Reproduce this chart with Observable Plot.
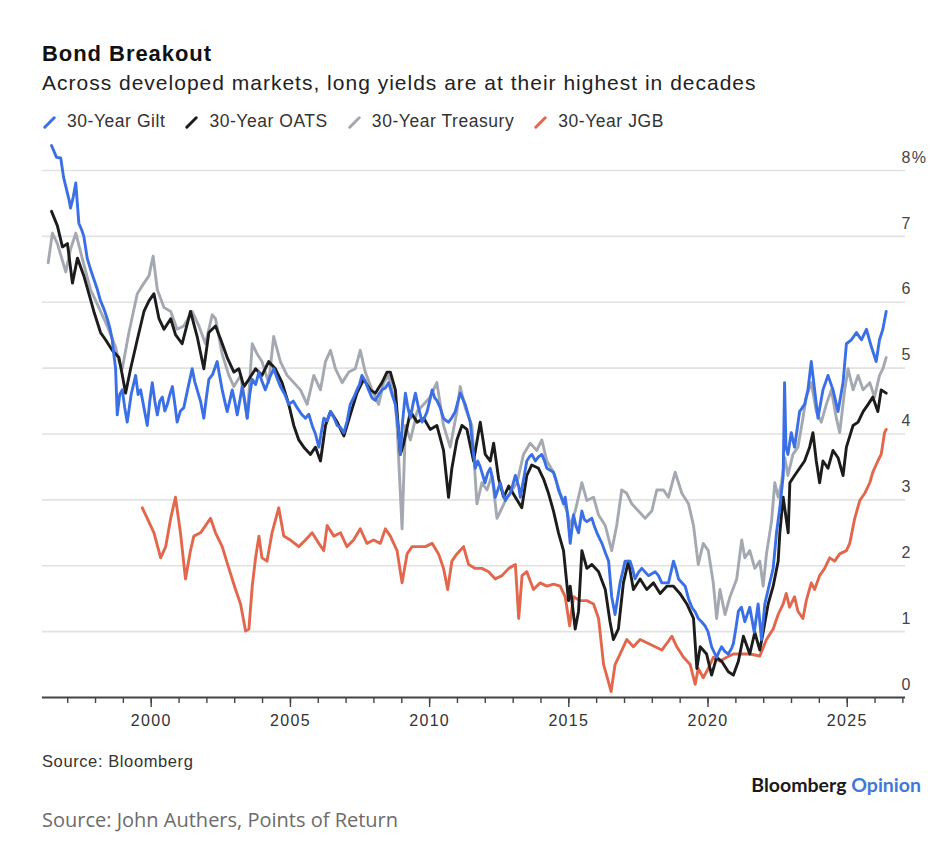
<!DOCTYPE html>
<html>
<head>
<meta charset="utf-8">
<script src="https://cdn.jsdelivr.net/npm/d3@7"></script>
<script src="https://cdn.jsdelivr.net/npm/@observablehq/plot@0.6"></script>
<style>
  html, body { margin: 0; padding: 0; background: #ffffff; }
  #root { position: relative; width: 948px; height: 866px; overflow: hidden; font-family: "Liberation Sans", Arial, Helvetica, sans-serif; }
  .abs { position: absolute; white-space: nowrap; }
  #title { left: 42px; top: 43.4px; font-size: 22px; line-height: 22px; font-weight: 700; letter-spacing: 0.95px; color: #111; }
  #subtitle { left: 42px; top: 72.2px; font-size: 21px; line-height: 21px; letter-spacing: 1px; color: #222; }
  #legend { left: 43px; top: 112.5px; display: flex; align-items: center; font-size: 17.5px; line-height: 17.5px; letter-spacing: 0.55px; color: #333; }
  #legend .item { display: flex; align-items: center; margin-right: 20px; }
  #legend svg { margin-right: 11px; margin-top: 2px; }
  #chart { left: 0; top: 140px; }
  #source { left: 42px; top: 753px; font-size: 16.5px; line-height: 16.5px; letter-spacing: 0.6px; color: #333; }
  #brand { right: 27px; top: 774.5px; font-family: Lato, "Liberation Sans", sans-serif; font-weight: 700; font-size: 19.5px; line-height: 19.5px; color: #1a1a1a; }
  #brand span { color: #3f78dc; }
  #caption { left: 42px; top: 810px; font-family: "Open Sans", "Noto Sans", sans-serif; font-size: 20px; line-height: 20px; color: #6b6b6b; }
</style>
</head>
<body>
<div id="root">
  <div id="title" class="abs">Bond Breakout</div>
  <div id="subtitle" class="abs">Across developed markets, long yields are at their highest in decades</div>
  <div id="legend" class="abs"></div>
  <div id="chart" class="abs"></div>
  <div id="source" class="abs">Source: Bloomberg</div>
  <div id="brand" class="abs">Bloomberg <span>Opinion</span></div>
  <div id="caption" class="abs">Source: John Authers, Points of Return</div>
</div>
<script>
// ---- Data (decimal year, yield %) ----
const seriesNames = ["30-Year Gilt", "30-Year OATS", "30-Year Treasury", "30-Year JGB"];
const seriesColors = ["#3b6fe6", "#1c1c1c", "#a4a9b1", "#e2674c"];
const yTicks = [0, 1, 2, 3, 4, 5, 6, 7, 8];

const gilt = [
[1996.42,8.38],[1996.6,8.2],[1996.75,8.19],[1996.85,7.9],[1996.93,7.76],[1997.05,7.55],[1997.1,7.43],[1997.2,7.6],[1997.29,7.81],[1997.4,7.2],[1997.5,7.1],[1997.58,7.0],[1997.7,6.67],[1997.82,6.5],[1997.94,6.35],[1998.06,6.2],[1998.18,6.02],[1998.3,5.9],[1998.42,5.75],[1998.52,5.6],[1998.6,5.43],[1998.66,5.2],[1998.72,5.0],[1998.78,4.29],[1998.87,4.6],[1998.96,4.67],[1999.05,4.4],[1999.14,4.18],[1999.28,4.6],[1999.44,4.89],[1999.53,4.6],[1999.62,4.67],[1999.74,4.4],[1999.86,4.13],[1999.95,4.5],[2000.04,4.78],[2000.13,4.5],[2000.22,4.29],[2000.31,4.5],[2000.4,4.56],[2000.49,4.35],[2000.58,4.45],[2000.67,4.6],[2000.76,4.72],[2000.85,4.45],[2000.93,4.18],[2001.05,4.35],[2001.17,4.4],[2001.32,4.7],[2001.47,4.99],[2001.56,4.8],[2001.65,4.67],[2001.77,4.5],[2001.89,4.24],[2001.98,4.55],[2002.07,4.83],[2002.2,4.9],[2002.37,5.1],[2002.45,4.9],[2002.55,4.67],[2002.64,4.5],[2002.73,4.34],[2002.82,4.5],[2002.91,4.67],[2003.0,4.5],[2003.09,4.29],[2003.18,4.5],[2003.27,4.72],[2003.36,4.5],[2003.45,4.24],[2003.54,4.6],[2003.63,4.83],[2003.75,4.75],[2003.87,4.94],[2003.98,4.8],[2004.1,4.67],[2004.25,4.85],[2004.4,4.99],[2004.52,4.85],[2004.64,4.72],[2004.8,4.6],[2004.94,4.45],[2005.1,4.5],[2005.24,4.4],[2005.4,4.3],[2005.54,4.24],[2005.66,4.3],[2005.78,4.13],[2005.9,4.0],[2006.02,3.8],[2006.1,4.0],[2006.2,4.24],[2006.32,4.2],[2006.44,4.34],[2006.56,4.25],[2006.68,4.13],[2006.8,4.1],[2006.92,4.02],[2007.04,4.2],[2007.15,4.45],[2007.27,4.55],[2007.39,4.67],[2007.48,4.75],[2007.57,4.89],[2007.69,4.8],[2007.81,4.67],[2007.93,4.55],[2008.05,4.51],[2008.17,4.6],[2008.29,4.67],[2008.41,4.7],[2008.53,4.78],[2008.65,4.6],[2008.77,4.45],[2008.83,4.24],[2008.9,4.0],[2008.95,3.69],[2009.03,4.2],[2009.13,4.62],[2009.22,4.4],[2009.31,4.24],[2009.4,4.45],[2009.49,4.62],[2009.6,4.4],[2009.73,4.18],[2009.82,4.25],[2009.91,4.34],[2010.0,4.5],[2010.09,4.67],[2010.18,4.55],[2010.26,4.51],[2010.38,4.4],[2010.5,4.24],[2010.6,4.2],[2010.68,4.18],[2010.8,4.25],[2010.92,4.34],[2011.02,4.5],[2011.1,4.62],[2011.28,4.45],[2011.46,4.18],[2011.55,3.8],[2011.64,3.48],[2011.73,3.59],[2011.82,3.5],[2011.99,3.26],[2012.08,3.4],[2012.18,3.48],[2012.27,3.3],[2012.36,3.04],[2012.45,3.15],[2012.54,3.26],[2012.63,3.1],[2012.72,2.99],[2012.81,3.05],[2012.9,3.1],[2013.0,3.25],[2013.08,3.37],[2013.2,3.2],[2013.26,3.04],[2013.37,3.3],[2013.49,3.59],[2013.58,3.65],[2013.67,3.69],[2013.8,3.59],[2013.9,3.65],[2014.03,3.69],[2014.12,3.6],[2014.21,3.48],[2014.33,3.45],[2014.45,3.42],[2014.54,3.3],[2014.63,3.15],[2014.72,3.05],[2014.81,2.94],[2014.87,3.04],[2014.95,2.8],[2015.05,2.34],[2015.17,2.77],[2015.26,2.6],[2015.35,2.5],[2015.47,2.83],[2015.56,2.7],[2015.65,2.67],[2015.83,2.72],[2015.92,2.6],[2016.01,2.5],[2016.19,2.34],[2016.31,2.2],[2016.43,2.07],[2016.54,1.53],[2016.66,1.26],[2016.75,1.5],[2016.84,1.74],[2016.93,1.9],[2017.02,2.07],[2017.2,2.07],[2017.29,1.95],[2017.38,1.8],[2017.5,1.9],[2017.62,1.96],[2017.86,1.85],[2018.1,1.91],[2018.22,1.85],[2018.34,1.74],[2018.58,1.74],[2018.76,2.07],[2018.85,1.95],[2018.94,1.8],[2019.18,1.69],[2019.3,1.5],[2019.42,1.37],[2019.54,1.3],[2019.65,1.2],[2019.77,1.15],[2019.89,1.09],[2020.0,1.0],[2020.13,0.77],[2020.31,0.61],[2020.4,0.7],[2020.49,0.77],[2020.6,0.7],[2020.73,0.66],[2020.85,0.75],[2020.91,0.82],[2021.0,1.05],[2021.09,1.31],[2021.2,1.37],[2021.32,1.15],[2021.5,1.37],[2021.66,0.99],[2021.8,1.42],[2021.92,0.88],[2022.04,1.42],[2022.16,1.64],[2022.34,1.96],[2022.46,2.5],[2022.58,2.88],[2022.7,3.37],[2022.75,4.78],[2022.8,3.8],[2022.87,3.69],[2022.99,4.02],[2023.11,3.8],[2023.29,4.34],[2023.47,4.45],[2023.59,4.67],[2023.71,5.1],[2023.83,4.67],[2023.95,4.24],[2024.13,4.67],[2024.31,4.89],[2024.49,4.67],[2024.67,4.34],[2024.85,4.78],[2024.97,5.37],[2025.15,5.43],[2025.33,5.54],[2025.51,5.43],[2025.69,5.59],[2025.87,5.32],[2026.04,5.1],[2026.16,5.43],[2026.28,5.59],[2026.4,5.86]
];

const oats = [
[1996.42,7.38],[1996.63,7.16],[1996.81,6.84],[1996.99,6.89],[1997.17,6.29],[1997.35,6.67],[1997.58,6.4],[1997.76,6.13],[1997.94,5.86],[1998.18,5.54],[1998.36,5.43],[1998.6,5.27],[1998.84,5.16],[1998.96,4.9],[1999.08,4.62],[1999.26,4.99],[1999.5,5.43],[1999.74,5.86],[1999.92,6.02],[2000.1,6.13],[2000.28,5.75],[2000.46,5.59],[2000.7,5.75],[2000.87,5.51],[2001.11,5.37],[2001.41,5.86],[2001.65,5.48],[2001.89,4.99],[2002.07,5.54],[2002.31,5.64],[2002.5,5.43],[2002.73,5.16],[2002.97,4.94],[2003.15,4.99],[2003.33,4.72],[2003.51,4.83],[2003.75,4.99],[2003.98,4.89],[2004.22,5.1],[2004.46,4.99],[2004.7,4.78],[2004.94,4.45],[2005.12,4.13],[2005.3,3.91],[2005.48,3.8],[2005.72,3.69],[2005.9,3.8],[2006.08,3.59],[2006.26,4.13],[2006.44,4.34],[2006.68,4.18],[2006.92,3.97],[2007.15,4.29],[2007.39,4.62],[2007.63,4.83],[2007.87,4.67],[2008.05,4.62],[2008.29,4.78],[2008.47,4.94],[2008.59,4.94],[2008.77,4.67],[2008.95,3.69],[2009.07,3.86],[2009.31,4.34],[2009.55,4.18],[2009.79,4.24],[2010.02,4.07],[2010.26,4.13],[2010.5,3.75],[2010.68,3.04],[2010.8,3.48],[2010.98,3.91],[2011.16,4.13],[2011.34,4.07],[2011.58,3.59],[2011.82,4.18],[2012.0,3.69],[2012.18,3.59],[2012.3,3.86],[2012.48,3.32],[2012.66,3.04],[2012.84,3.21],[2013.08,3.04],[2013.31,2.88],[2013.49,3.37],[2013.67,3.53],[2013.91,3.48],[2014.09,3.32],[2014.27,3.1],[2014.45,2.83],[2014.63,2.5],[2014.81,2.23],[2014.99,1.47],[2015.05,1.69],[2015.23,1.04],[2015.35,1.31],[2015.47,2.23],[2015.65,1.96],[2015.83,2.02],[2016.07,1.91],[2016.31,1.64],[2016.48,1.15],[2016.6,0.88],[2016.78,1.04],[2016.96,1.74],[2017.14,2.07],[2017.32,1.64],[2017.56,1.8],[2017.8,1.64],[2018.04,1.74],[2018.28,1.58],[2018.52,1.69],[2018.76,1.69],[2018.99,1.58],[2019.24,1.42],[2019.48,1.2],[2019.6,0.44],[2019.72,0.77],[2019.95,0.66],[2020.13,0.34],[2020.31,0.61],[2020.49,0.55],[2020.73,0.39],[2020.91,0.34],[2021.09,0.55],[2021.27,0.93],[2021.5,0.66],[2021.68,0.99],[2021.86,0.72],[2021.98,0.99],[2022.16,1.42],[2022.34,1.69],[2022.52,2.07],[2022.58,2.5],[2022.7,3.04],[2022.88,2.5],[2022.94,3.26],[2023.11,3.37],[2023.29,3.48],[2023.47,3.59],[2023.65,3.8],[2023.77,4.02],[2023.89,3.59],[2024.01,3.26],[2024.13,3.59],[2024.31,3.48],[2024.49,3.75],[2024.67,3.64],[2024.85,3.37],[2024.97,3.8],[2025.21,4.13],[2025.39,4.18],[2025.57,4.34],[2025.75,4.45],[2025.92,4.56],[2026.1,4.34],[2026.22,4.67],[2026.4,4.62]
];

const treasury = [
[1996.3,6.6],[1996.45,7.05],[1996.63,6.89],[1996.93,6.46],[1997.1,6.8],[1997.29,7.05],[1997.52,6.67],[1997.82,6.19],[1998.12,5.92],[1998.42,5.64],[1998.72,5.32],[1998.84,5.1],[1998.96,4.99],[1999.2,5.54],[1999.5,6.13],[1999.74,6.29],[1999.92,6.4],[2000.07,6.7],[2000.22,6.19],[2000.46,5.92],[2000.7,5.86],[2000.93,5.59],[2001.17,5.64],[2001.47,5.86],[2001.71,5.64],[2001.95,5.37],[2002.19,5.81],[2002.31,5.75],[2002.55,5.21],[2002.79,4.89],[2002.97,4.72],[2003.21,4.89],[2003.45,4.24],[2003.63,5.37],[2003.81,5.21],[2003.98,5.1],[2004.22,4.78],[2004.4,5.48],[2004.64,5.1],[2004.88,4.89],[2005.12,4.78],[2005.36,4.67],[2005.6,4.45],[2005.84,4.89],[2006.08,4.67],[2006.26,5.1],[2006.44,5.27],[2006.62,4.99],[2006.86,4.78],[2007.1,4.94],[2007.33,4.99],[2007.51,5.27],[2007.69,4.94],[2007.93,4.67],[2008.17,4.45],[2008.35,4.78],[2008.53,4.89],[2008.77,4.45],[2008.83,4.13],[2009.01,2.56],[2009.13,4.13],[2009.31,3.91],[2009.55,4.34],[2009.79,4.45],[2010.02,4.56],[2010.26,4.78],[2010.5,4.13],[2010.74,3.8],[2010.98,4.34],[2011.1,4.72],[2011.28,4.4],[2011.52,4.13],[2011.7,2.94],[2011.88,3.26],[2012.06,3.15],[2012.24,3.37],[2012.42,2.72],[2012.6,2.88],[2012.78,3.04],[2012.96,3.15],[2013.14,3.26],[2013.37,3.69],[2013.61,3.86],[2013.85,3.75],[2014.03,3.91],[2014.21,3.59],[2014.45,3.42],[2014.69,3.1],[2014.93,2.83],[2015.05,2.61],[2015.23,2.83],[2015.47,3.26],[2015.65,2.99],[2015.89,3.04],[2016.07,2.77],[2016.31,2.61],[2016.54,2.23],[2016.72,2.61],[2016.9,3.15],[2017.08,3.1],[2017.26,2.94],[2017.5,2.83],[2017.74,2.72],[2017.98,2.83],[2018.16,3.15],[2018.4,3.15],[2018.58,3.04],[2018.82,3.42],[2019.06,3.1],[2019.3,2.94],[2019.48,2.61],[2019.65,2.02],[2019.83,2.34],[2020.01,2.23],[2020.19,1.74],[2020.31,1.2],[2020.43,1.64],[2020.61,1.26],[2020.79,1.53],[2021.03,1.8],[2021.21,2.39],[2021.32,2.12],[2021.5,2.23],[2021.68,1.96],[2021.86,2.07],[2021.98,1.69],[2022.1,2.18],[2022.28,2.67],[2022.4,3.26],[2022.52,3.04],[2022.64,3.26],[2022.76,3.64],[2022.87,3.37],[2023.05,3.69],[2023.23,3.8],[2023.41,4.24],[2023.53,4.56],[2023.71,4.78],[2023.89,4.34],[2024.07,4.18],[2024.25,4.45],[2024.43,4.67],[2024.61,4.24],[2024.73,4.02],[2024.91,4.67],[2025.03,4.99],[2025.21,4.67],[2025.39,4.89],[2025.57,4.67],[2025.81,4.78],[2025.98,4.56],[2026.16,4.89],[2026.28,4.99],[2026.4,5.16]
];

const jgb = [
[1999.68,2.88],[1999.86,2.72],[2000.1,2.5],[2000.34,2.12],[2000.52,2.29],[2000.7,2.72],[2000.87,3.04],[2001.05,2.5],[2001.23,1.8],[2001.41,2.23],[2001.53,2.45],[2001.77,2.5],[2002.13,2.72],[2002.31,2.5],[2002.55,2.29],[2002.79,1.96],[2003.03,1.64],[2003.21,1.42],[2003.39,1.01],[2003.51,1.04],[2003.63,1.69],[2003.75,2.12],[2003.87,2.45],[2003.98,2.12],[2004.16,2.07],[2004.34,2.5],[2004.58,2.88],[2004.76,2.45],[2005.0,2.39],[2005.3,2.29],[2005.54,2.39],[2005.78,2.5],[2006.02,2.34],[2006.2,2.23],[2006.32,2.61],[2006.56,2.45],[2006.8,2.5],[2007.03,2.29],[2007.27,2.39],[2007.51,2.56],[2007.75,2.34],[2007.99,2.39],[2008.23,2.34],[2008.41,2.56],[2008.59,2.45],[2008.83,2.23],[2009.01,1.74],[2009.19,2.18],[2009.37,2.29],[2009.61,2.29],[2009.85,2.29],[2010.09,2.34],[2010.32,2.18],[2010.5,1.96],[2010.65,1.64],[2010.8,2.07],[2010.98,2.18],[2011.22,2.29],[2011.4,2.02],[2011.64,1.96],[2011.88,1.96],[2012.12,1.91],[2012.36,1.8],[2012.6,1.85],[2012.84,1.96],[2013.08,2.02],[2013.2,1.2],[2013.32,1.85],[2013.49,1.91],[2013.73,1.64],[2013.97,1.74],[2014.21,1.69],[2014.45,1.72],[2014.69,1.69],[2014.87,1.53],[2015.03,1.09],[2015.17,1.53],[2015.41,1.47],[2015.65,1.47],[2015.89,1.42],[2016.07,1.2],[2016.25,0.5],[2016.43,0.23],[2016.52,0.09],[2016.66,0.5],[2016.84,0.66],[2017.08,0.88],[2017.32,0.77],[2017.56,0.88],[2017.86,0.82],[2018.1,0.77],[2018.34,0.72],[2018.52,0.82],[2018.7,0.93],[2018.88,0.77],[2019.12,0.61],[2019.36,0.5],[2019.54,0.2],[2019.65,0.44],[2019.83,0.3],[2020.01,0.44],[2020.19,0.61],[2020.43,0.55],[2020.67,0.61],[2020.91,0.66],[2021.15,0.66],[2021.5,0.66],[2021.86,0.63],[2022.1,0.88],[2022.34,1.04],[2022.52,1.26],[2022.7,1.42],[2022.81,1.58],[2022.93,1.37],[2023.11,1.53],[2023.23,1.31],[2023.41,1.2],[2023.53,1.47],[2023.71,1.74],[2023.83,1.64],[2024.01,1.85],[2024.19,1.96],[2024.37,2.12],[2024.55,2.07],[2024.73,2.18],[2024.97,2.23],[2025.09,2.34],[2025.27,2.72],[2025.45,2.99],[2025.63,3.1],[2025.81,3.26],[2025.92,3.42],[2026.1,3.59],[2026.22,3.69],[2026.34,4.02],[2026.4,4.07]
];

const seriesData = [gilt, oats, treasury, jgb];
const xDomainYears = [1996.096, 2027.094];

// ---- helpers ----
function toDate(y) {
  const yr = Math.floor(y);
  const s = Date.UTC(yr, 0, 1), e = Date.UTC(yr + 1, 0, 1);
  return new Date(s + (y - yr) * (e - s));
}

const rows = [];
seriesData.forEach((arr, i) => {
  arr.forEach(([t, v]) => rows.push({series: seriesNames[i], date: toDate(t), value: v}));
});

// ---- legend ----
const legend = document.getElementById("legend");
seriesNames.forEach((name, i) => {
  const item = document.createElement("div");
  item.className = "item";
  item.innerHTML = `<svg width="13" height="13" viewBox="0 0 13 13"><line x1="1.8" y1="11.2" x2="11.2" y2="1.8" stroke="${seriesColors[i]}" stroke-width="3" stroke-linecap="round"/></svg><span>${name}</span>`;
  legend.appendChild(item);
});

// ---- chart ----
const drawOrder = [3, 2, 1, 0]; // JGB, Treasury, OATS, Gilt on top
const lineMarks = drawOrder.map(i =>
  Plot.line(rows.filter(d => d.series === seriesNames[i]), {
    x: "date", y: "value", stroke: seriesColors[i], strokeWidth: 2.9,
    strokeLinejoin: "round", strokeLinecap: "round"
  })
);

const chart = Plot.plot({
  width: 948,
  height: 600,
  marginLeft: 42,
  marginRight: 43,
  marginTop: 30,
  marginBottom: 43,
  x: {type: "utc", domain: xDomainYears.map(toDate), label: null},
  y: {domain: [0, 8], label: null},
  style: {
    fontFamily: "'Liberation Sans', Arial, Helvetica, sans-serif",
    fontSize: "16px",
    letterSpacing: "1.3px",
    color: "#3a3a3a",
    background: "transparent",
    overflow: "visible"
  },
  marks: [
    Plot.ruleY(yTicks.filter(d => d > 0), {stroke: "#e2e2e2", strokeWidth: 1.6}),
    ...lineMarks,
    Plot.ruleY([0], {stroke: "#444", strokeWidth: 1.8}),
    Plot.axisX({ticks: d3.utcYear.every(1), tickSize: 6, tickFormat: () => "", stroke: "#444", strokeWidth: 1.4}),
    Plot.axisX({ticks: d3.utcYear.every(5), tickSize: 10, tickPadding: 7, tickFormat: d3.utcFormat("%Y"), stroke: "#444", strokeWidth: 1.4, fill: "#333"}),
    Plot.axisY({anchor: "right", ticks: yTicks, tickSize: 0, tickFormat: d => d === 8 ? "8%" : String(d), dx: -13, dy: -13, textAnchor: "start", fill: "#444"})
  ]
});
document.getElementById("chart").appendChild(chart);
</script>
</body>
</html>
